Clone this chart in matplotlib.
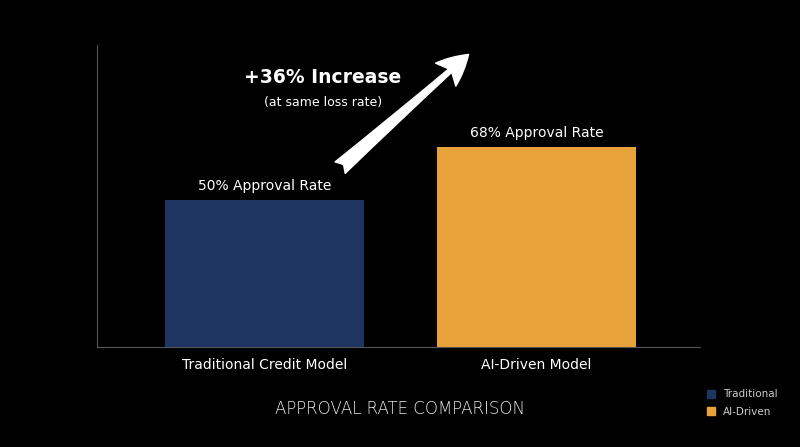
import matplotlib
matplotlib.use("Agg")
import matplotlib.pyplot as plt
from matplotlib.patches import Patch

categories = ["Traditional Credit Model", "AI-Driven Model"]
approval = [50, 68]
bar_labels = ["50% Approval Rate", "68% Approval Rate"]
legend_names = ["Traditional", "AI-Driven"]
colors = ["#1e3461", "#e8a23a"]

fig = plt.figure(figsize=(8, 4.47), dpi=100, facecolor="black")
ax = fig.add_axes([0.121, 0.2237, 0.754, 0.6756], facecolor="black")

x = range(len(categories))
ax.bar(x, approval, width=0.73, color=colors)
for xi, v, lab in zip(x, approval, bar_labels):
    ax.text(xi, v + 2.5, lab, ha="center", va="bottom", color="white", fontsize=10)

ax.set_xlim(-0.616, 1.60)
ax.set_ylim(0, 102.7)
ax.set_xticks(list(x))
ax.set_xticklabels(categories, color="white", fontsize=10)
ax.tick_params(axis="x", length=0, pad=8)
ax.set_yticks([])
for s in ["top", "right"]:
    ax.spines[s].set_visible(False)
for s in ["left", "bottom"]:
    ax.spines[s].set_color("#555555")

ax.annotate("", xy=(0.75, 99.5), xytext=(0.278, 61),
            arrowprops=dict(arrowstyle="fancy,head_width=2.2,head_length=2.2,tail_width=1.1",
                            color="white", shrinkA=0, shrinkB=0), annotation_clip=False)
ax.text(0.215, 91.5, "+36% Increase", ha="center", va="center", color="white",
        fontsize=13.5, fontweight="bold")
ax.text(0.215, 83.3, "(at same loss rate)", ha="center", va="center", color="white", fontsize=9)

fig.text(0.5, 1 - 409 / 447, "APPROVAL RATE COMPARISON", ha="center", va="center",
         color="#e8e8e8", fontsize=12, fontweight="light")

handles = [Patch(color=c) for c in colors]
fig.legend(handles, legend_names, loc="center left", bbox_to_anchor=(0.872, 1 - 403 / 447),
           frameon=False, fontsize=7.5, labelcolor="#cccccc", handlelength=0.8,
           handleheight=0.8, handletextpad=0.7, labelspacing=0.7)

fig.savefig("out.png", dpi=100, facecolor="black")
